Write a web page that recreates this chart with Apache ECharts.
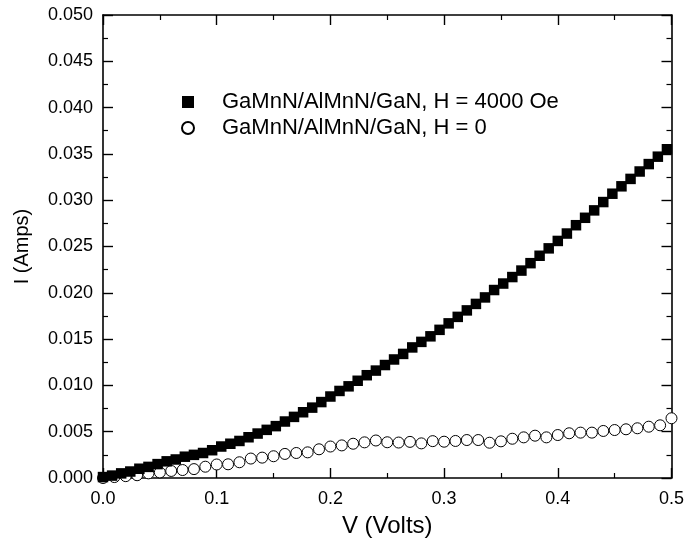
<!DOCTYPE html>
<html>
<head>
<meta charset="utf-8">
<script src="https://cdn.jsdelivr.net/npm/echarts@6/dist/echarts.min.js"></script>
<style>html,body{margin:0;padding:0;background:#fff}#c{width:687px;height:544px}</style>
</head>
<body>
<div id="c"></div>
<script>
const voltageH4000 = [0.000,0.008,0.016,0.024,0.032,0.040,0.048,0.056,0.064,0.072,0.080,0.088,0.096,0.104,0.112,0.120,0.128,0.136,0.144,0.152,0.160,0.168,0.176,0.184,0.192,0.200,0.208,0.216,0.224,0.232,0.240,0.248,0.256,0.264,0.272,0.280,0.288,0.296,0.304,0.312,0.320,0.328,0.336,0.344,0.352,0.360,0.368,0.376,0.384,0.392,0.400,0.408,0.416,0.424,0.432,0.440,0.448,0.456,0.464,0.472,0.480,0.488,0.496];
const currentH4000 = [0.0001,0.00026,0.0005,0.0007,0.0010,0.0012,0.0015,0.0018,0.0020,0.0023,0.0025,0.0027,0.0030,0.0034,0.0037,0.0040,0.0044,0.0048,0.0052,0.0056,0.0061,0.0066,0.0071,0.0076,0.0082,0.0088,0.0094,0.0099,0.0105,0.0111,0.0116,0.0122,0.0128,0.0134,0.0141,0.0147,0.0153,0.0160,0.0167,0.0174,0.0181,0.0188,0.0195,0.0203,0.0210,0.0217,0.0224,0.0232,0.0240,0.0248,0.0256,0.0264,0.0273,0.0281,0.0289,0.0298,0.0307,0.0315,0.0323,0.0331,0.0339,0.0347,0.0355];
const voltageH0 = [0.00,0.01,0.02,0.03,0.04,0.05,0.06,0.07,0.08,0.09,0.10,0.11,0.12,0.13,0.14,0.15,0.16,0.17,0.18,0.19,0.20,0.21,0.22,0.23,0.24,0.25,0.26,0.27,0.28,0.29,0.30,0.31,0.32,0.33,0.34,0.35,0.36,0.37,0.38,0.39,0.40,0.41,0.42,0.43,0.44,0.45,0.46,0.47,0.48,0.49,0.50];
const currentH0 = [0.0000,0.0001,0.0002,0.0003,0.0005,0.0006,0.00076,0.00086,0.00096,0.00122,0.00146,0.00148,0.0017,0.0021,0.0022,0.00235,0.0026,0.0027,0.00277,0.0031,0.0034,0.00352,0.0037,0.00385,0.00405,0.00386,0.00383,0.0039,0.00374,0.00398,0.00392,0.004,0.0041,0.0041,0.00381,0.00396,0.00424,0.00439,0.00457,0.00439,0.00464,0.00483,0.0049,0.0049,0.00508,0.00518,0.00526,0.00537,0.00554,0.00569,0.00645];
const seriesNames = ['GaMnN/AlMnN/GaN, H = 4000 Oe', 'GaMnN/AlMnN/GaN, H = 0'];
const xTitle = 'V (Volts)';
const yTitle = 'I (Amps)';

const font = 'Liberation Sans, Arial, sans-serif';
const chart = echarts.init(document.getElementById('c'));
const pair = (xs, ys) => xs.map((x, i) => [x, ys[i]]);
const axisLine = {show: true, onZero: false, lineStyle: {color: '#000', width: 1.6}};
const tick = {show: true, inside: true, length: 10, lineStyle: {color: '#000', width: 1.4}};
const minor = {show: true, splitNumber: 2, length: 5, lineStyle: {color: '#000', width: 1.2}};
chart.setOption({
  animation: false,
  backgroundColor: '#fff',
  grid: {left: 103, right: 10, top: 15, bottom: 66},
  legend: {
    orient: 'vertical', left: 181, top: 91, itemGap: 4, padding: 0,
    itemWidth: 12, itemHeight: 12,
    data: [{name: seriesNames[0], icon: 'rect'}, {name: seriesNames[1], icon: 'circle'}],
    textStyle: {fontFamily: font, fontSize: 22, color: '#000', padding: [0, 0, 0, 23]}
  },
  xAxis: [{
    type: 'value', min: 0, max: 0.5, interval: 0.1, position: 'bottom',
    name: xTitle, nameLocation: 'middle', nameGap: 36,
    nameTextStyle: {fontFamily: font, fontSize: 24, color: '#000'},
    axisLine, axisTick: tick, minorTick: minor, splitLine: {show: false},
    axisLabel: {fontFamily: font, fontSize: 18, color: '#000', margin: 12, formatter: v => v.toFixed(1)}
  }, {
    type: 'value', min: 0, max: 0.5, interval: 0.1, position: 'top',
    axisLine, axisTick: tick, minorTick: minor, splitLine: {show: false}, axisLabel: {show: false}
  }],
  yAxis: [{
    type: 'value', min: 0, max: 0.05, interval: 0.005, position: 'left',
    name: yTitle, nameLocation: 'middle', nameGap: 71,
    nameTextStyle: {fontFamily: font, fontSize: 20, color: '#000'},
    axisLine, axisTick: tick, minorTick: minor, splitLine: {show: false},
    axisLabel: {fontFamily: font, fontSize: 18, color: '#000', margin: 10, formatter: v => v.toFixed(3)}
  }, {
    type: 'value', min: 0, max: 0.05, interval: 0.005, position: 'right',
    axisLine, axisTick: tick, minorTick: minor, splitLine: {show: false}, axisLabel: {show: false}
  }],
  series: [{
    name: seriesNames[1], type: 'scatter', symbol: 'circle', symbolSize: 11,
    itemStyle: {color: '#fff', borderColor: '#000', borderWidth: 1, opacity: 1},
    data: pair(voltageH0, currentH0), z: 2
  }, {
    name: seriesNames[0], type: 'scatter', symbol: 'rect', symbolSize: 10.5,
    itemStyle: {color: '#000', opacity: 1},
    data: pair(voltageH4000, currentH4000), z: 3
  }]
});
</script>
</body>
</html>
